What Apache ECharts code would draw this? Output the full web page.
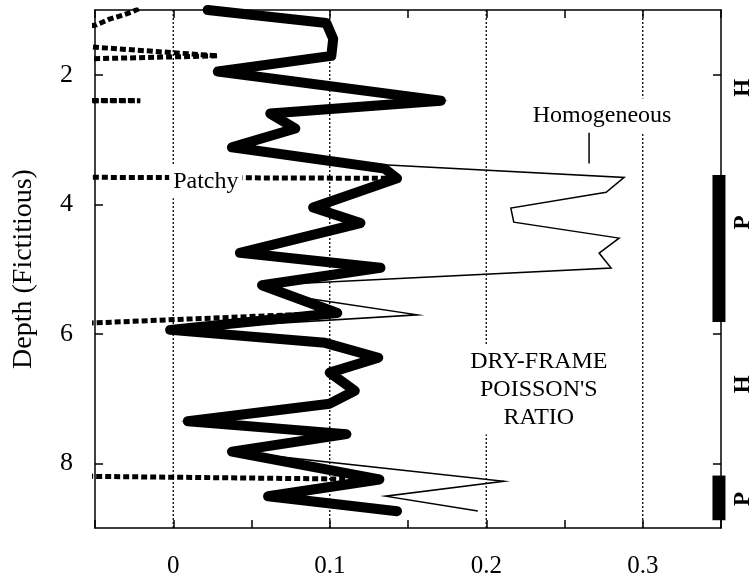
<!DOCTYPE html>
<html>
<head>
<meta charset="utf-8">
<script src="https://cdn.jsdelivr.net/npm/echarts@6/dist/echarts.min.js"></script>
<style>html,body{margin:0;padding:0;background:#fff}#c{width:755px;height:581px}</style>
</head>
<body>
<div id="c"></div>
<script>
// Dry-frame Poisson's ratio (thick curve)
const dryDepth = [1.0,1.2,1.446,1.708,1.95,2.40,2.60,2.83,3.12,3.45,3.60,4.05,4.29,4.75,4.98,5.25,5.68,5.94,6.14,6.37,6.60,6.88,7.08,7.35,7.55,7.82,8.25,8.51,8.74];
const dryRatio = [0.022,0.0978,0.1022,0.101,0.0285,0.171,0.062,0.078,0.0375,0.135,0.143,0.0894,0.1196,0.0426,0.1324,0.0567,0.1048,-0.002,0.097,0.131,0.100,0.116,0.100,0.0093,0.1106,0.0375,0.1317,0.0606,0.143];
// Homogeneous (thin curve)
const homDepth = [1.0,1.2,1.446,1.708,1.95,2.40,2.60,2.83,3.12,3.354,3.585,3.815,4.06,4.277,4.523,4.754,4.985,5.25,5.46,5.708,5.94,6.14,6.37,6.60,6.88,7.08,7.35,7.55,7.82,8.277,8.508,8.738];
const homRatio = [0.022,0.0978,0.1022,0.101,0.0285,0.171,0.062,0.078,0.0375,0.1067,0.2881,0.2766,0.2157,0.2176,0.2849,0.2721,0.2798,0.0567,0.0875,0.156,-0.002,0.097,0.131,0.100,0.116,0.100,0.0093,0.1106,0.0375,0.2112,0.1356,0.1946];
// Patchy (dotted curve, mostly off-scale to the left)
const patDepth = [0.98,1.03,1.08,1.14,1.23,1.42,1.49,1.708,1.78,2.39,2.40,2.41,3.58,3.60,4.05,4.29,4.75,4.98,5.25,5.68,5.88,8.19,8.25,8.51,8.74];
const patRatio = [-0.022,-0.0266,-0.0324,-0.0407,-0.049,-0.1,-0.1,0.0285,-0.1,-0.1,-0.021,-0.1,-0.1,0.143,0.0894,0.1196,0.0426,0.1324,0.0567,0.1048,-0.1,-0.1,0.1317,0.0606,0.143];
// Zones (P = patchy, H = homogeneous)
const zoneStart = [3.55, 8.19];
const zoneEnd = [5.82, 8.88];
const zoneLabels = ['H','P','H','P'];
const zoneLabelDepth = [2.2, 4.28, 6.78, 8.55];
// Axis ticks
const xLabels = [0, 0.1, 0.2, 0.3];
const yLabels = [2, 4, 6, 8];
// Annotation texts
const annText = ['Patchy', 'Homogeneous', "DRY-FRAME\nPOISSON'S\nRATIO"];
const annRatio = [0.0208, 0.274, 0.2336];
const annDepth = [3.646, 2.63, 6.86];

const FONT = 'Liberation Serif';
const pairs = (xs, ys) => ys.map((y, i) => [xs[i], y]);
const zoneX = 0.3487;
const labelX = 0.3644;

const series = [];
// dotted vertical grid lines
xLabels.forEach(g => series.push({
  type: 'line', data: [[g, 1], [g, 9]], symbol: 'none', z: 1, silent: true,
  lineStyle: { color: '#000', width: 1.3, type: [2, 2] }
}));
series.push({
  name: 'Patchy', type: 'line', data: pairs(patRatio, patDepth), symbol: 'none', z: 2,
  lineStyle: { color: '#000', width: 5, type: [6, 3], cap: 'butt' }
});
series.push({
  name: 'Dry', type: 'line', data: pairs(dryRatio, dryDepth), symbol: 'none', z: 3,
  lineStyle: { color: '#000', width: 10, cap: 'round', join: 'round' }
});
series.push({
  name: 'Homogeneous', type: 'line', data: pairs(homRatio, homDepth), symbol: 'none', z: 4,
  lineStyle: { color: '#000', width: 1.5, join: 'miter' }
});
// pointer line to Homogeneous
series.push({
  type: 'line', data: [[0.2657, 2.89], [0.2657, 3.37]], symbol: 'none', z: 4,
  lineStyle: { color: '#000', width: 1.5 }
});
// zone bars
zoneStart.forEach((s, i) => series.push({
  type: 'line', data: [[zoneX, s], [zoneX, zoneEnd[i]]], symbol: 'none', z: 5, clip: false,
  lineStyle: { color: '#000', width: 13, cap: 'butt' }
}));
// annotations
series.push({
  type: 'scatter', symbolSize: 0, z: 6, clip: false, silent: true,
  itemStyle: { opacity: 1 },
  data: annText.map((t, i) => ({ name: t, value: [annRatio[i], annDepth[i]] })),
  label: {
    show: true, position: 'inside', formatter: '{b}', color: '#000', opacity: 1,
    fontFamily: FONT, fontSize: 24, lineHeight: 28, align: 'center',
    backgroundColor: '#fff', padding: [3, 4]
  },
  labelLayout: { hideOverlap: false }
});
// zone labels
series.push({
  type: 'scatter', symbolSize: 0, z: 6, clip: false, silent: true,
  itemStyle: { opacity: 1 },
  data: zoneLabels.map((t, i) => ({ name: t, value: [labelX, zoneLabelDepth[i]] })),
  label: {
    show: true, position: 'inside', formatter: '{b}', color: '#000', opacity: 1, rotate: 90,
    fontFamily: FONT, fontSize: 23, fontWeight: 'bold'
  }
});

const axisLine = { show: true, onZero: false, lineStyle: { color: '#000', width: 1.5 } };
const tick = { show: true, inside: true, length: 8, lineStyle: { color: '#000', width: 1.5 } };
const fmtX = v => {
  const r = Math.round(v * 10);
  if (Math.abs(v * 10 - r) > 1e-6 || r < 0) return '';
  return r === 0 ? '0' : (r / 10).toFixed(1);
};

const option = {
  animation: false,
  backgroundColor: '#fff',
  grid: { left: 95, right: 34, top: 10, bottom: 53, containLabel: false, outerBoundsMode: 'none' },
  xAxis: [
    { type: 'value', position: 'bottom', min: -0.05, max: 0.35, interval: 0.05,
      axisLine, axisTick: tick, splitLine: { show: false },
      axisLabel: { formatter: fmtX, fontFamily: FONT, fontSize: 25, color: '#000', margin: 26 } },
    { type: 'value', position: 'top', min: -0.05, max: 0.35, interval: 0.05,
      axisLine, axisTick: tick, splitLine: { show: false }, axisLabel: { show: false } }
  ],
  yAxis: [
    { type: 'value', position: 'left', inverse: true, min: 1, max: 9, interval: 1,
      name: 'Depth (Fictitious)', nameLocation: 'middle', nameGap: 57,
      nameTextStyle: { fontFamily: FONT, fontSize: 28, color: '#000' },
      axisLine, axisTick: Object.assign({}, tick, { customValues: yLabels }),
      splitLine: { show: false },
      axisLabel: { customValues: yLabels, fontFamily: FONT, fontSize: 26, color: '#000', margin: 22 } },
    { type: 'value', position: 'right', inverse: true, min: 1, max: 9, interval: 1,
      axisLine, axisTick: Object.assign({}, tick, { customValues: yLabels }),
      splitLine: { show: false }, axisLabel: { show: false } }
  ],
  series
};

const chart = echarts.init(document.getElementById('c'), null, { renderer: 'canvas' });
chart.setOption(option);
</script>
</body>
</html>
